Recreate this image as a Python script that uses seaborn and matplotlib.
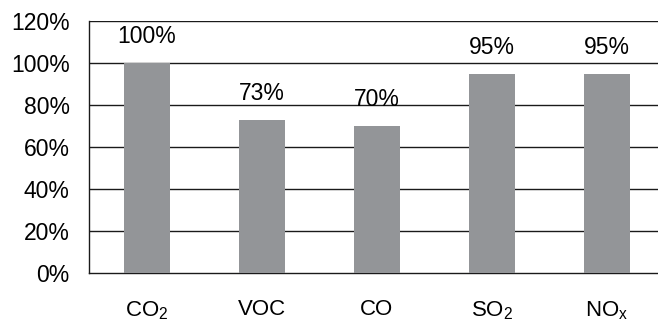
import matplotlib
matplotlib.use("Agg")
import matplotlib.pyplot as plt
import seaborn as sns
import pandas as pd

categories = ["CO$_\\mathregular{2}$", "VOC", "CO", "SO$_\\mathregular{2}$", "NO$_\\mathregular{x}$"]
values = [100, 73, 70, 95, 95]
value_labels = ["100%", "73%", "70%", "95%", "95%"]
yticks = [0, 20, 40, 60, 80, 100, 120]
ytick_labels = ["0%", "20%", "40%", "60%", "80%", "100%", "120%"]

sns.set_style("white")
plt.rcParams["font.family"] = ["Liberation Sans", "DejaVu Sans"]
plt.rcParams["mathtext.fontset"] = "custom"
plt.rcParams["mathtext.rm"] = "Liberation Sans"

df = pd.DataFrame({"cat": categories, "val": values})

W, H = 658, 322
fig = plt.figure(figsize=(W / 100, H / 100), dpi=100)
left, right, top, bottom = 89, 664.5, 21, 273
ax = fig.add_axes([left / W, (H - bottom) / H, (right - left) / W, (bottom - top) / H])

sns.barplot(data=df, x="cat", y="val", color="#939598", saturation=1, width=0.4,
            linewidth=0, ax=ax, zorder=3)

ax.set_ylim(0, 120)
ax.set_xlim(-0.5, 4.5)
ax.set_yticks(yticks)
ax.set_yticklabels(ytick_labels)
for y in yticks[1:]:
    ax.axhline(y, color="#1a1a1a", lw=1, zorder=1)
ax.set_xlabel("")
ax.set_ylabel("")
ax.tick_params(axis="y", length=0, pad=14, labelsize=16.5, colors="black")
ax.tick_params(axis="x", length=0, pad=19, labelsize=16, colors="black")
for s in ["top", "right"]:
    ax.spines[s].set_visible(False)
for s in ["left", "bottom"]:
    ax.spines[s].set_color("#1a1a1a")
    ax.spines[s].set_linewidth(1)

for i, (v, lab) in enumerate(zip(values, value_labels)):
    ax.annotate(lab, (i, v), xytext=(0, 19), textcoords="offset points",
                ha="center", va="center", fontsize=16.5, color="black")

fig.savefig("out.png", dpi=100)
